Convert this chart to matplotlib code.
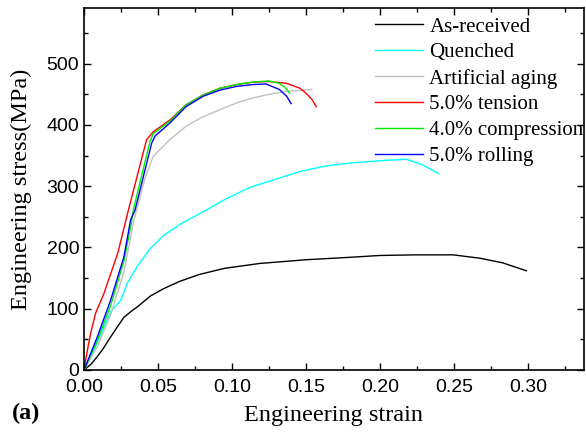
import numpy as np
import matplotlib.pyplot as plt
from matplotlib.ticker import MultipleLocator

# values
strain_asrec = [0, 0.005, 0.009, 0.013, 0.018, 0.023, 0.027, 0.032, 0.036, 0.045, 0.054,
                0.065, 0.078, 0.095, 0.119, 0.15, 0.18, 0.20, 0.225, 0.2495, 0.2676, 0.283, 0.299]
stress_asrec = [0, 10, 22, 35, 54, 72, 86, 96, 103, 121, 133,
                145, 156, 166, 174, 180, 184, 187, 188, 188, 182.5, 175, 162]

strain_quench = [0, 0.009, 0.018, 0.0248, 0.0293, 0.036, 0.045, 0.054, 0.065, 0.078, 0.095,
                 0.112, 0.129, 0.146, 0.163, 0.180, 0.202, 0.218, 0.229, 0.2394]
stress_quench = [0, 45, 95, 114, 142, 169, 199, 220, 238, 255, 278,
                 298, 311, 324, 333, 338, 342, 344, 335, 321]

strain_aging = [0, 0.009, 0.018, 0.027, 0.0338, 0.0356, 0.0412, 0.0468, 0.058, 0.069,
                0.080, 0.092, 0.103, 0.114, 0.125, 0.137, 0.154]
stress_aging = [0, 38, 90, 160, 245, 261, 313, 349, 376, 398,
                413, 425, 436, 444, 450, 455, 458]

strain_tens = [0, 0.0025, 0.0045, 0.0079, 0.0135, 0.023, 0.030, 0.0423, 0.0468, 0.058,
               0.069, 0.0806, 0.092, 0.103, 0.1144, 0.125, 0.137, 0.146, 0.150, 0.154, 0.157]
stress_tens = [0, 35, 60, 93, 125, 192, 261, 376, 389, 408,
               433, 449, 460, 466, 470, 471, 468, 460, 452, 442, 430]

strain_comp = [0, 0.009, 0.018, 0.027, 0.032, 0.0333, 0.0446, 0.0468, 0.058, 0.069,
               0.0806, 0.092, 0.103, 0.114, 0.125, 0.132, 0.136, 0.139]
stress_comp = [0, 48, 105, 178, 240, 261, 373, 386, 406, 433,
               449, 460, 466, 470, 472, 468, 461, 452]

strain_roll = [0, 0.009, 0.018, 0.027, 0.0315, 0.0345, 0.0457, 0.0480, 0.058, 0.069,
               0.0806, 0.092, 0.103, 0.114, 0.123, 0.132, 0.137, 0.140]
stress_roll = [0, 54, 114, 185, 245, 261, 370, 382, 403, 430,
               447, 457, 463, 466, 467, 458, 447, 435]

labels = ['As-received', 'Quenched', 'Artificial aging',
          '5.0% tension', '4.0% compression', '5.0% rolling']
colors = ['black', 'cyan', '#c0c0c0', 'red', '#00ee00', 'blue']

curves = [(strain_asrec, stress_asrec), (strain_quench, stress_quench),
          (strain_aging, stress_aging), (strain_tens, stress_tens),
          (strain_comp, stress_comp), (strain_roll, stress_roll)]

fig = plt.figure(figsize=(5.86, 4.34), dpi=100)
ax = fig.add_axes([84/586, 1 - 370/434, 500/586, 362/434])

for (x, y), lab, c in zip(curves, labels, colors):
    ax.plot(x, y, color=c, lw=1.0, label=lab)

ax.set_xlim(0, 0.338)
ax.set_ylim(0, 591)
ax.xaxis.set_minor_locator(MultipleLocator(0.025))
ax.yaxis.set_minor_locator(MultipleLocator(50))
ax.set_xticks([0, 0.05, 0.10, 0.15, 0.20, 0.25, 0.30])
ax.set_xticklabels(['0.00', '0.05', '0.10', '0.15', '0.20', '0.25', '0.30'])
ax.set_yticks([0, 100, 200, 300, 400, 500])
ax.tick_params(which='both', direction='in', top=True, right=True)
ax.tick_params(which='major', length=5, width=1)
ax.tick_params(which='minor', length=3, width=1)
ax.tick_params(axis='x', which='major', pad=6.5)
for lab in ax.get_xticklabels() + ax.get_yticklabels():
    lab.set_family('Liberation Sans')
    lab.set_fontsize(14)
for s in ax.spines.values():
    s.set_linewidth(1.2)

ax.set_xlabel('Engineering strain', family='Liberation Serif', fontsize=17.5)
ax.set_ylabel('Engineering stress(MPa)', family='Liberation Serif', fontsize=17.5)
ax.xaxis.set_label_coords(0.5, -(405 - 370) / 362)
# ylabel anchor is the right-hand edge of the rotated text
ax.yaxis.set_label_coords((32 - 84) / 500, 0.5)
fig.text(12/586, 1 - 413/434, '(a)', family='Liberation Serif', fontsize=17.5,
         fontweight='bold', va='center')

ax.legend(loc='upper right', bbox_to_anchor=(1.02, 1.004), frameon=False,
          prop={'family': 'Liberation Serif', 'size': 15},
          handlelength=2.3, handletextpad=0.3, labelspacing=0.3,
          borderaxespad=0.1)

fig.savefig('out.png', dpi=100)
